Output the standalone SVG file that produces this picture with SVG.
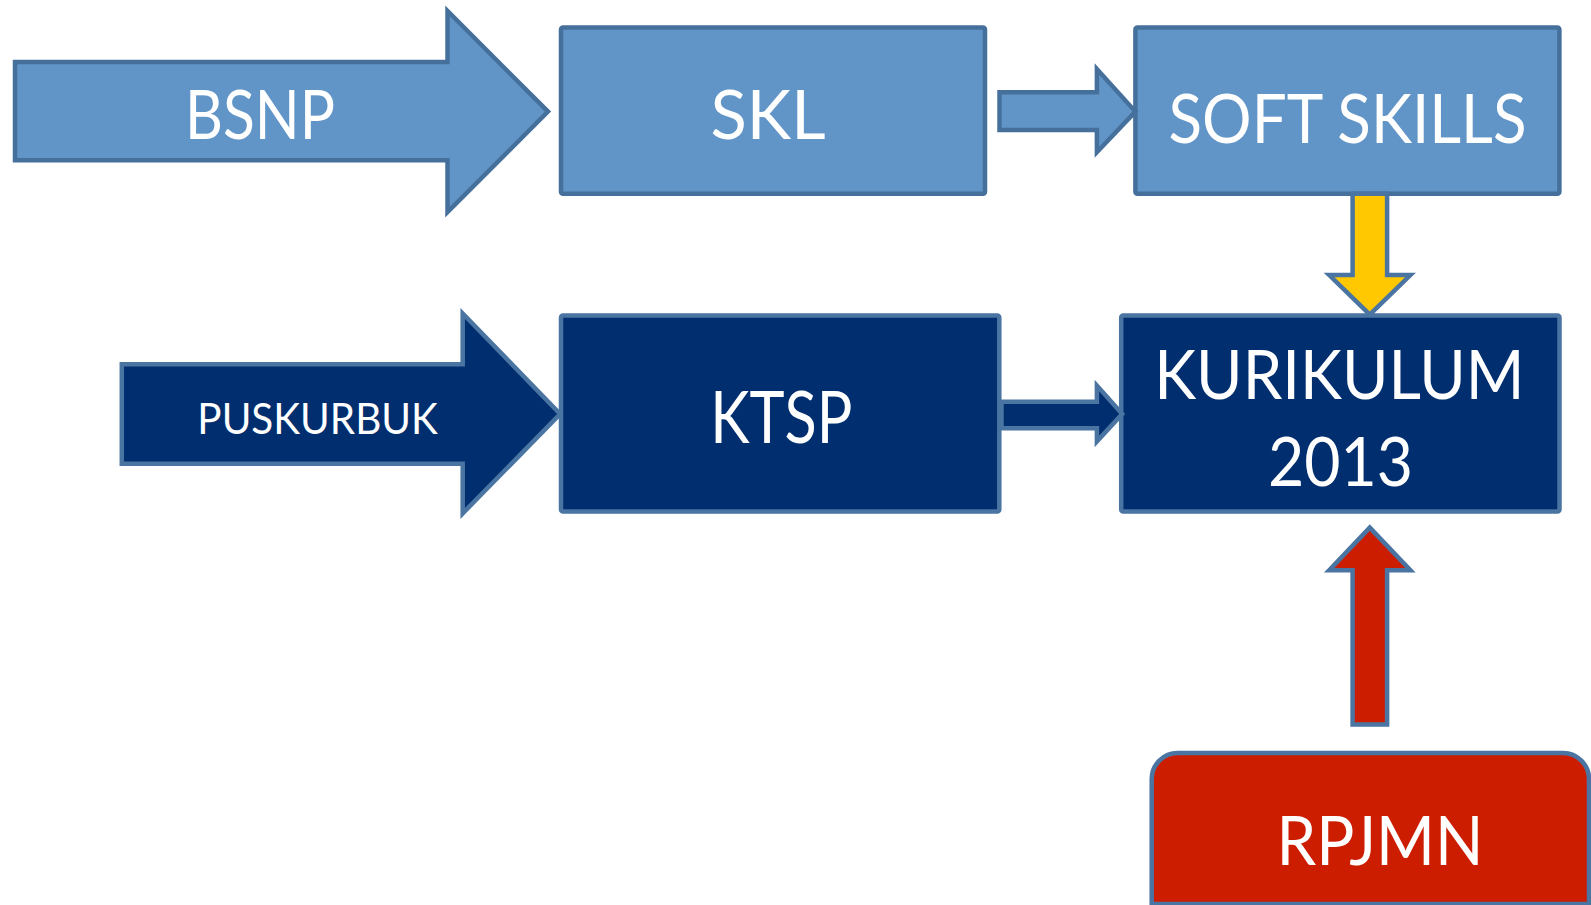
<svg xmlns="http://www.w3.org/2000/svg" width="1591" height="905" viewBox="0 0 1591 905">
<style>
.light{fill:#6195c7;stroke:#46709c;stroke-width:4.5;stroke-linejoin:miter}
.dark{fill:#012e6f;stroke:#4a74a2;stroke-width:4.5}
.red{fill:#cc1d00;stroke:#4a74a2;stroke-width:4.5}
.yellow{fill:#ffc800;stroke:#4a74a2;stroke-width:4.5}
.t{font-family:Lato,"Liberation Sans",sans-serif;fill:#ffffff;text-anchor:middle}
</style>
<rect width="1591" height="905" fill="#ffffff"/>
<g id="bsnp">
<polygon class="light" points="15,62 447.5,62 447.5,11 548,111.6 447.5,212 447.5,160.3 15,160.3"/>
<text class="t" x="260" y="139" font-size="68" textLength="150" lengthAdjust="spacingAndGlyphs">BSNP</text>
</g>
<g id="skl">
<rect class="light" x="561" y="27.4" width="424" height="166.4" rx="2"/>
<text class="t" x="768" y="139" font-size="68" textLength="115" lengthAdjust="spacingAndGlyphs">SKL</text>
</g>
<g id="softskills">
<rect class="light" x="1135.4" y="27.4" width="424" height="166.4" rx="2"/>
<text class="t" x="1347.5" y="143" font-size="68" textLength="358" lengthAdjust="spacingAndGlyphs">SOFT SKILLS</text>
</g>
<g id="puskurbuk">
<polygon class="dark" points="121.8,364.3 462.7,364.3 462.7,313.5 560.1,414 462.7,513.4 462.7,463.7 121.8,463.7"/>
<text class="t" x="317.6" y="434.3" font-size="41.6" textLength="240.5" lengthAdjust="spacingAndGlyphs">PUSKURBUK</text>
</g>
<g id="ktsp">
<rect class="dark" x="561" y="315.6" width="438.3" height="195.8" rx="2"/>
<text class="t" x="781.3" y="443.4" font-size="71" textLength="142" lengthAdjust="spacingAndGlyphs">KTSP</text>
</g>
<g id="kurikulum">
<rect class="dark" x="1121.2" y="315.6" width="438.3" height="195.8" rx="2"/>
<text class="t" x="1339.4" y="398.8" font-size="68" textLength="370.4" lengthAdjust="spacingAndGlyphs">KURIKULUM</text>
<text class="t" x="1340.4" y="486" font-size="68" textLength="145" lengthAdjust="spacingAndGlyphs">2013</text>
</g>
<g id="rpjmn">
<path class="red" d="M1151.7,904 V779 A26,26 0 0 1 1177.7,753 H1563 A26,26 0 0 1 1589,779 V904 Z"/>
<text class="t" x="1380" y="864.5" font-size="68" textLength="207" lengthAdjust="spacingAndGlyphs">RPJMN</text>
</g>
<g id="connectors">
<polygon class="light" points="999.5,92.3 1096.9,92.3 1096.9,69 1135.4,111.6 1096.9,152.2 1096.9,129.9 999.5,129.9"/>
<polygon class="dark" points="1001.5,401.8 1096.9,401.8 1096.9,385.6 1122.2,414 1096.9,441.4 1096.9,428.2 1001.5,428.2"/>
<polygon class="yellow" points="1352.6,193.8 1387.1,193.8 1387.1,275 1410.4,275 1369.8,314.6 1329.2,275 1352.6,275"/>
<polygon class="red" points="1369.8,527.6 1410.4,570.3 1387.1,570.3 1387.1,724.5 1352.6,724.5 1352.6,570.3 1329.2,570.3"/>
</g>
</svg>
